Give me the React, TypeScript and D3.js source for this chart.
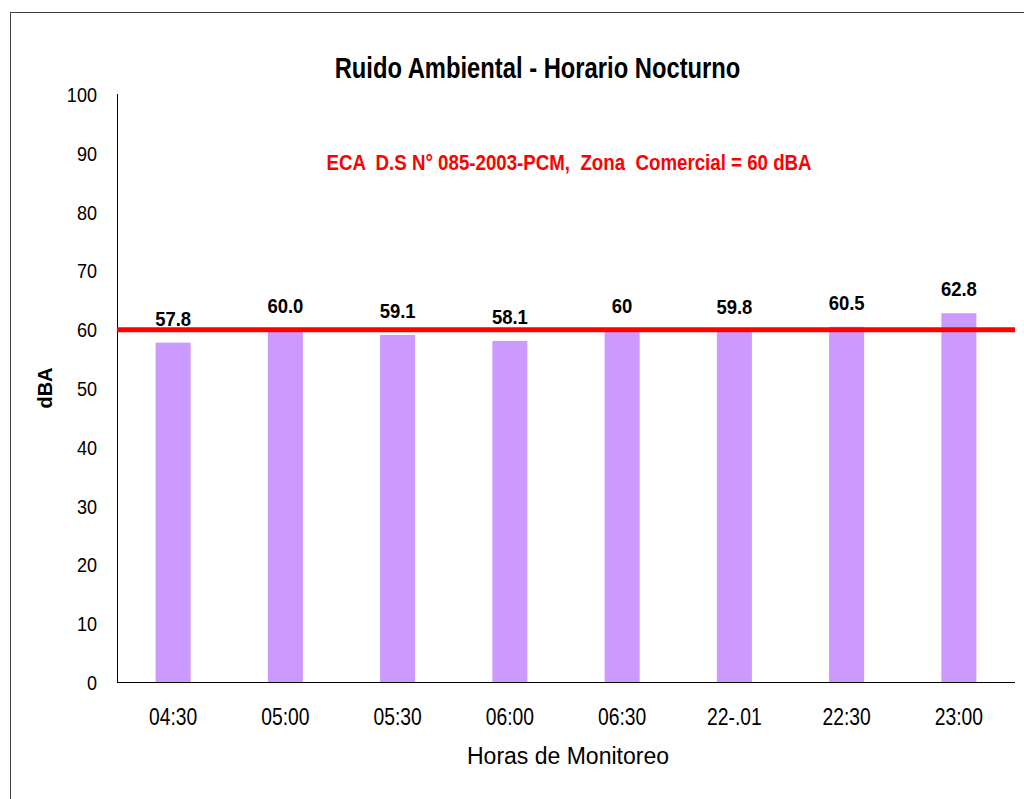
import React from "react";
import * as d3 from "d3";

// Night-time ambient noise readings by monitoring hour
const categories = ["04:30", "05:00", "05:30", "06:00", "06:30", "22-.01", "22:30", "23:00"];
const values = [57.8, 60.0, 59.1, 58.1, 60, 59.8, 60.5, 62.8];
const valueLabels = ["57.8", "60.0", "59.1", "58.1", "60", "59.8", "60.5", "62.8"];
const yTicks = [0, 10, 20, 30, 40, 50, 60, 70, 80, 90, 100];
const limitValue = 60;

const W = 1024;
const H = 799;
const sans = "'Liberation Sans', Arial, sans-serif";

type LabelProps = {
  x: number;
  y: number;
  sx?: number;
  anchor?: "start" | "middle" | "end";
  size: number;
  bold?: boolean;
  fill?: string;
  dy?: string;
  children: React.ReactNode;
};

// Text drawn in a horizontally condensed face
function Label({ x, y, sx = 1, anchor = "middle", size, bold, fill = "#000", dy, children }: LabelProps) {
  return (
    <g transform={`translate(${x},${y}) scale(${sx},1)`}>
      <text
        textAnchor={anchor}
        dy={dy}
        fontFamily={sans}
        fontWeight={bold ? "bold" : "normal"}
        fontSize={size}
        fill={fill}
        style={{ whiteSpace: "pre" }}
      >
        {children}
      </text>
    </g>
  );
}

export default function App() {
  const x = d3
    .scaleBand<string>()
    .domain(categories)
    .range([117, 1015])
    .paddingInner(0.688)
    .paddingOuter(0.344);
  const y = d3.scaleLinear().domain([0, 100]).range([682.5, 94.5]);

  const [x0, x1] = x.range();
  const cx = (c: string) => (x(c) as number) + x.bandwidth() / 2;

  return (
    <svg
      width={W}
      height={H}
      style={{ position: "absolute", left: 0, top: 0, background: "#fff" }}
    >
      {/* outer chart frame */}
      <rect x={10.5} y={12.5} width={W + 20} height={H + 20} fill="#fff" stroke="#404040" strokeWidth={1} />

      <Label x={537.5} y={78} sx={0.82} size={29} bold>
        Ruido Ambiental - Horario Nocturno
      </Label>

      <Label x={569} y={170} sx={0.85} size={22} bold fill="#ff0000">
        {"ECA  D.S N° 085-2003-PCM,  Zona  Comercial = 60 dBA"}
      </Label>

      {/* y tick labels */}
      {yTicks.map((t) => (
        <Label key={t} x={97} y={y(t)} sx={0.86} anchor="end" size={21} dy="0.36em">
          {t}
        </Label>
      ))}

      {/* bars */}
      {categories.map((c, i) => (
        <rect
          key={c}
          x={x(c)}
          y={y(values[i])}
          width={x.bandwidth()}
          height={y(0) - y(values[i])}
          fill="#cc99ff"
        />
      ))}

      {/* value labels */}
      {categories.map((c, i) => (
        <Label key={c} x={cx(c)} y={y(values[i]) - 17} sx={0.88} size={21} bold>
          {valueLabels[i]}
        </Label>
      ))}

      {/* axes */}
      <line x1={117.5} x2={117.5} y1={94} y2={682.5} stroke="#000" strokeWidth={1} />
      <line x1={117} x2={x1} y1={682.5} y2={682.5} stroke="#000" strokeWidth={1.2} />

      {/* regulatory limit line */}
      <line x1={x0} x2={x1} y1={y(limitValue)} y2={y(limitValue)} stroke="#ff0000" strokeWidth={5} />

      {/* x tick labels */}
      {categories.map((c) => (
        <Label key={c} x={cx(c)} y={725} sx={0.84} size={23}>
          {c}
        </Label>
      ))}

      <Label x={568} y={764} size={23}>
        Horas de Monitoreo
      </Label>

      <text
        transform="translate(52,388) rotate(-90)"
        textAnchor="middle"
        fontFamily={sans}
        fontWeight="bold"
        fontSize={20}
        fill="#000"
      >
        dBA
      </text>
    </svg>
  );
}
